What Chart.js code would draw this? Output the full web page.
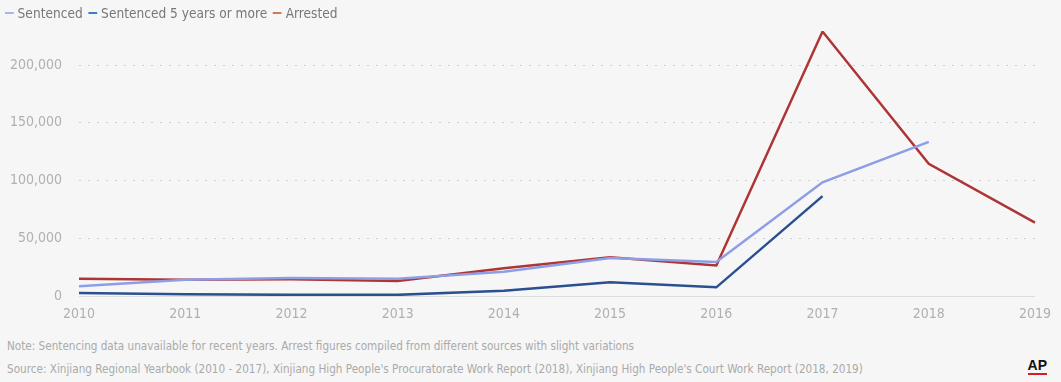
<!DOCTYPE html>
<html>
<head>
<meta charset="utf-8">
<script src="https://cdn.jsdelivr.net/npm/chart.js@4"></script>
<style>
  html, body { margin: 0; padding: 0; background: #f6f6f6; }
  body { width: 1061px; height: 382px; position: relative; overflow: hidden;
         font-family: "Liberation Sans Narrow", "DejaVu Sans Condensed", sans-serif; }
  #legend { position: absolute; left: 5px; top: 5px; font-size: 14px; color: #777; white-space: nowrap;
            transform: scaleX(0.97); transform-origin: left top; }
  #legend span.item { margin-right: 6px; }
  #legend span.mark { display: inline-block; width: 9px; height: 2px; vertical-align: middle; margin-right: 4px; position: relative; top: -1px; }
  #wrap { position: absolute; left: 0; top: 0; width: 1061px; height: 330px; }
  .note { position: absolute; left: 7px; font-size: 12.5px; color: #aaa; white-space: nowrap;
          transform: scaleX(0.93); transform-origin: left top; }
  #ap { position: absolute; right: 14px; top: 358px; font: bold 14px "Liberation Sans", Arial, sans-serif; color: #111;
        border-bottom: 2px solid #d0202a; line-height: 14px; padding-bottom: 1px; }
</style>
</head>
<body>
<div id="wrap"><canvas id="chart" width="1061" height="330"></canvas></div>
<div id="legend"></div>
<div class="note" style="top:338px">Note: Sentencing data unavailable for recent years. Arrest figures compiled from different sources with slight variations</div>
<div class="note" style="top:361px">Source: Xinjiang Regional Yearbook (2010 - 2017), Xinjiang High People's Procuratorate Work Report (2018), Xinjiang High People's Court Work Report (2018, 2019)</div>
<div id="ap">AP</div>
<script>
// данные
const years = ['2010', '2011', '2012', '2013', '2014', '2015', '2016', '2017', '2018', '2019'];
const sentenced = [8500, 14000, 15500, 15000, 21000, 33000, 29500, 98500, 133500, null];
const sentencedFive = [2500, 1500, 1000, 1000, 4500, 12000, 7500, 86500, null, null];
const arrested = [15000, 14000, 14500, 13000, 24000, 33500, 26500, 229000, 114500, 63500];
const yTicks = [0, 50000, 100000, 150000, 200000];

const seriesNames = ['Sentenced', 'Sentenced 5 years or more', 'Arrested'];
const seriesColors = ['#8d9ee6', '#2c4f90', '#ad3535'];
const legendColors = ['#a9b3ea', '#3d7fc4', '#d07a52'];

const FONT = '"Liberation Sans Narrow", "DejaVu Sans Condensed", sans-serif';

// легенда
const legendEl = document.getElementById('legend');
seriesNames.forEach((name, i) => {
    legendEl.innerHTML += `<span class="item"><span class="mark" style="background:${legendColors[i]}"></span>${name}</span>`;
});

const ctx = document.getElementById('chart').getContext('2d');
new Chart(ctx, {
    type: 'line',
    data: {
        labels: years,
        datasets: [sentenced, sentencedFive, arrested].map((d, i) => ({
            label: seriesNames[i],
            data: d,
            borderColor: seriesColors[i],
            borderWidth: 2.5,
            tension: 0,
            pointRadius: 0,
            spanGaps: false,
            fill: false
        }))
    },
    options: {
        responsive: false,
        animation: false,
        layout: { padding: { top: 31, right: 22, left: 0, bottom: 0 } },
        plugins: { legend: { display: false }, tooltip: { enabled: false } },
        scales: {
            x: {
                grid: { display: false, drawTicks: false },
                border: { display: true, color: '#dcdcdc', width: 1 },
                ticks: { color: '#b0b0b0', font: { family: FONT, size: 14 }, padding: 10, maxRotation: 0, autoSkip: false },
                afterFit: (s) => { s.height = 34; }
            },
            y: {
                min: 0,
                max: 229500,
                afterBuildTicks: (s) => { s.ticks = yTicks.map(v => ({ value: v })); },
                grid: { color: (c) => c.tick && c.tick.value === 0 ? 'rgba(0,0,0,0)' : '#cfcfcf', drawTicks: false, lineWidth: 1 },
                border: { display: false, dash: [2, 7] },
                ticks: {
                    color: '#b0b0b0', font: { family: FONT, size: 14 }, padding: 17,
                    callback: (v) => v.toLocaleString('en-US')
                },
                afterFit: (s) => { s.width = 79; }
            }
        }
    }
});
</script>
</body>
</html>
